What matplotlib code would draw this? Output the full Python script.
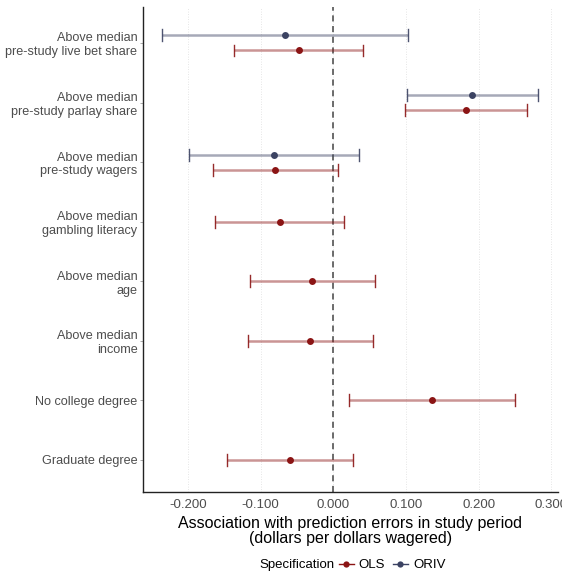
import matplotlib
matplotlib.use("Agg")
import matplotlib.pyplot as plt
from matplotlib.lines import Line2D
import numpy as np

plt.rcParams['font.family'] = ['Liberation Sans', 'DejaVu Sans']

categories = [
    "Above median\npre-study live bet share",
    "Above median\npre-study parlay share",
    "Above median\npre-study wagers",
    "Above median\ngambling literacy",
    "Above median\nage",
    "Above median\nincome",
    "No college degree",
    "Graduate degree",
]
ols_est = [-0.048, 0.183, -0.080, -0.074, -0.029, -0.032, 0.136, -0.060]
ols_lo = [-0.137, 0.098, -0.166, -0.163, -0.115, -0.118, 0.021, -0.147]
ols_hi = [0.041, 0.267, 0.006, 0.015, 0.057, 0.054, 0.250, 0.027]
oriv_est = [-0.067, 0.191, -0.082, None, None, None, None, None]
oriv_lo = [-0.236, 0.101, -0.199, None, None, None, None, None]
oriv_hi = [0.103, 0.281, 0.035, None, None, None, None, None]
xticks = [-0.2, -0.1, 0.0, 0.1, 0.2, 0.3]
xticklabels = ["-0.200", "-0.100", "0.000", "0.100", "0.200", "0.300"]

c_ols = "#8b1414"
c_oriv = "#3b4262"

fig = plt.figure(figsize=(5.62, 5.72), dpi=100)
ax = fig.add_axes([0.2544, 0.1399, 0.7385, 0.8479])

n = len(categories)
ypos = np.arange(n, 0, -1).astype(float)
dodge = 0.126
cap = 0.1

def draw(y, est, lo, hi, color):
    ax.plot([lo, hi], [y, y], color=color, lw=1.8, alpha=0.45, solid_capstyle='butt', zorder=3)
    ax.plot([lo, lo], [y - cap, y + cap], color=color, lw=1.0, alpha=0.9, zorder=3)
    ax.plot([hi, hi], [y - cap, y + cap], color=color, lw=1.0, alpha=0.9, zorder=3)
    ax.plot([est], [y], 'o', color=color, ms=5.0, mew=0, zorder=4)

for i in range(n):
    y = ypos[i]
    if oriv_est[i] is not None:
        draw(y + dodge, oriv_est[i], oriv_lo[i], oriv_hi[i], c_oriv)
        draw(y - dodge, ols_est[i], ols_lo[i], ols_hi[i], c_ols)
    else:
        draw(y, ols_est[i], ols_lo[i], ols_hi[i], c_ols)

ax.axvline(0, color="#444444", lw=1.1, ls=(0, (4, 3)), zorder=2)

ax.set_xlim(-0.262, 0.309)
ax.set_ylim(1 - 0.537, n + 0.604)
ax.set_xticks(xticks)
ax.set_xticklabels(xticklabels, fontsize=9.5, color="#4d4d4d")
ax.set_yticks(ypos)
ax.set_yticklabels(categories, fontsize=9.1, color="#4d4d4d", linespacing=1.2)
ax.tick_params(axis='x', length=0, pad=5)
ax.tick_params(axis='y', length=2.5, width=0.5, color="#888888", pad=1.5)
ax.grid(axis='x', color="#dddddd", lw=0.6, ls=(0, (1, 2)))
ax.set_axisbelow(True)
for s in ['top', 'right']:
    ax.spines[s].set_visible(False)
for s in ['left', 'bottom']:
    ax.spines[s].set_color("#222222")
    ax.spines[s].set_linewidth(1.0)

ax.set_xlabel("Association with prediction errors in study period\n(dollars per dollars wagered)",
              fontsize=11.5, color="black", labelpad=4, linespacing=1.0)

# legend
fig.text(335 / 562, 1 - 565 / 572, "Specification", ha='right', va='center',
         fontsize=9.5, color="black")
handles = [
    Line2D([0], [0], color=c_ols, marker='o', ms=4.5, mew=0, lw=1.0, label="OLS"),
    Line2D([0], [0], color=c_oriv, marker='o', ms=4.5, mew=0, lw=1.0, label="ORIV"),
]
leg = fig.legend(handles=handles, loc='center left', bbox_to_anchor=(339 / 562, 1 - 565 / 572),
                 ncol=2, frameon=False, fontsize=9.5, borderpad=0, borderaxespad=0,
                 handlelength=1.1, handletextpad=0.4, columnspacing=0.6)

fig.savefig("out.png", dpi=100)
